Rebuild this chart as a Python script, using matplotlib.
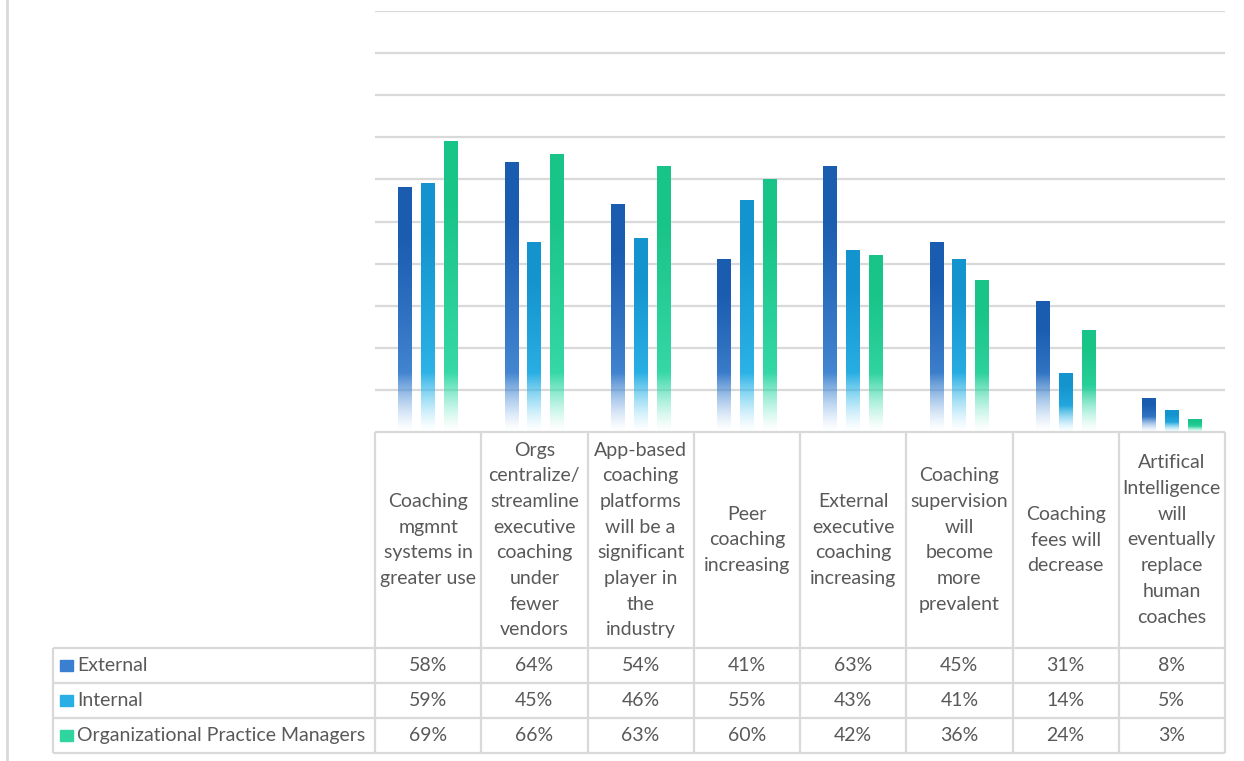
import numpy as np
import matplotlib.pyplot as plt
from matplotlib.patches import Rectangle
from matplotlib.colors import to_rgb

plt.rcParams['font.family'] = ['Lato', 'DejaVu Sans']

categories = [
    "Coaching\nmgmnt\nsystems in\ngreater use",
    "Orgs\ncentralize/\nstreamline\nexecutive\ncoaching\nunder\nfewer\nvendors",
    "App-based\ncoaching\nplatforms\nwill be a\nsignificant\nplayer in\nthe\nindustry",
    "Peer\ncoaching\nincreasing",
    "External\nexecutive\ncoaching\nincreasing",
    "Coaching\nsupervision\nwill\nbecome\nmore\nprevalent",
    "Coaching\nfees will\ndecrease",
    "Artifical\nIntelligence\nwill\neventually\nreplace\nhuman\ncoaches",
]
series_names = ["External", "Internal", "Organizational Practice Managers"]
external = [58, 64, 54, 41, 63, 45, 31, 8]
internal = [59, 45, 46, 55, 43, 41, 14, 5]
opm = [69, 66, 63, 60, 42, 36, 24, 3]
series_values = [external, internal, opm]

# (top colour, lower colour) for each series gradient
grad_colors = [("#1a5cb0", "#5a9de3"), ("#1494cf", "#3cc6f5"), ("#19c488", "#45e3b6")]
key_colors = ["#3a7fd0", "#2aaee6", "#2fd49f"]
text_color = "#595959"
line_color = "#d9d9d9"

W, H = 1244, 761
fig = plt.figure(figsize=(W / 100, H / 100), dpi=100)

# pixel layout
x0, x1 = 375, 1225
y_top, y_base = 11, 432
y_head_bot = 648
row_h = 35
lab_x0 = 53

# overlay in pixel coordinates for the data table
ov = fig.add_axes([0, 0, 1, 1])
ov.set_xlim(0, W)
ov.set_ylim(H, 0)
ov.axis('off')

ax = fig.add_axes([x0 / W, 1 - y_base / H, (x1 - x0) / W, (y_base - y_top) / H])
n = len(categories)
ax.set_yticks(np.arange(10, 101, 10))
ax.grid(axis='y', color=line_color, lw=1.6)
ax.set_axisbelow(True)
ax.tick_params(left=False, bottom=False, labelleft=False, labelbottom=False)
for s in ax.spines.values():
    s.set_visible(False)
ax.patch.set_alpha(0)

x = np.arange(n)
bw = 0.13
offs = [-0.216, 0, 0.216]
for vals, off, (ctop, clow) in zip(series_values, offs, grad_colors):
    bars = ax.bar(x + off, vals, width=bw, color='none', zorder=2)
    ct, cl = np.array(to_rgb(ctop)), np.array(to_rgb(clow))
    for b, v in zip(bars, vals):
        rows = 200
        yy = np.linspace(0, v, rows)
        t = yy / v
        mix = np.clip(t * 1.25, 0, 1) ** 0.8
        rgb = cl[None, :] * (1 - mix[:, None]) + ct[None, :] * mix[:, None]
        fade = min(14, 0.45 * v)
        alpha = np.clip(yy / fade, 0, 1) ** 1.3
        img = np.zeros((rows, 1, 4))
        img[:, 0, :3] = rgb
        img[:, 0, 3] = alpha
        bx = b.get_x()
        ax.imshow(img, extent=(bx, bx + bw, 0, v), origin='lower',
                  aspect='auto', zorder=3, interpolation='bilinear')
ax.set_xlim(-0.5, n - 0.5)
ax.set_ylim(0, 100)

# left chart border
ov.plot([7, 7], [0, H], color=line_color, lw=2)

# table grid
col_w = (x1 - x0) / n
lc = dict(color=line_color, lw=1.6, solid_capstyle='butt')
ov.plot([x0, x1], [y_base, y_base], **lc)
for i in range(n + 1):
    xc = x0 + i * col_w
    ov.plot([xc, xc], [y_base, y_head_bot + 3 * row_h], **lc)
for r in range(4):
    yr = y_head_bot + r * row_h
    ov.plot([lab_x0, x1], [yr, yr], **lc)
ov.plot([lab_x0, lab_x0], [y_head_bot, y_head_bot + 3 * row_h], **lc)

fs = 14
for i, cat in enumerate(categories):
    ov.text(x0 + (i + 0.5) * col_w, (y_base + y_head_bot) / 2, cat,
            ha='center', va='center', fontsize=fs, color=text_color,
            linespacing=1.62, multialignment='center')

for r, (name, vals) in enumerate(zip(series_names, series_values)):
    yc = y_head_bot + (r + 0.5) * row_h
    ov.add_patch(Rectangle((60, yc - 6), 13, 11, color=key_colors[r]))
    ov.text(77, yc, name, ha='left', va='center', fontsize=fs, color=text_color)
    for i, v in enumerate(vals):
        ov.text(x0 + (i + 0.5) * col_w, yc, f"{v}%", ha='center', va='center',
                fontsize=fs, color=text_color)

fig.savefig("out.png", dpi=100)
